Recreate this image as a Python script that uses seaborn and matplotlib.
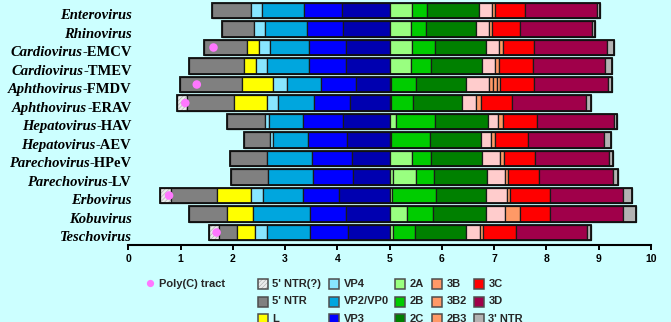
import numpy as np
import pandas as pd
import matplotlib
matplotlib.use("Agg")
import matplotlib.pyplot as plt
import matplotlib.transforms as mtransforms
from matplotlib.patches import Rectangle
from matplotlib.lines import Line2D
import seaborn as sns

# ---------------- data ----------------
genera = ["Enterovirus", "Rhinovirus", "Cardiovirus", "Cardiovirus", "Aphthovirus",
          "Aphthovirus", "Hepatovirus", "Hepatovirus", "Parechovirus", "Parechovirus",
          "Erbovirus", "Kobuvirus", "Teschovirus"]
species = ["", "", "EMCV", "TMEV", "FMDV", "ERAV", "HAV", "AEV", "HPeV", "LV", "", "", ""]

# segment lengths (kb), genome order; every genome aligned at the P1/P2 junction
p2_start = 5.0
ntr5_q = [0, 0, 0, 0, 0, 0.20, 0, 0, 0, 0, 0.21, 0, 0.20]
ntr5 = [0.73, 0.62, 0.83, 1.06, 1.20, 0.89, 0.73, 0.50, 0.70, 0.70, 0.88, 0.72, 0.34]
L = [0, 0, 0.22, 0.23, 0.59, 0.63, 0, 0, 0, 0, 0.65, 0.50, 0.35]
vp4 = [0.21, 0.21, 0.21, 0.21, 0.26, 0.22, 0.08, 0.05, 0, 0, 0.22, 0, 0.23]
vp2 = [0.82, 0.79, 0.75, 0.80, 0.66, 0.69, 0.66, 0.67, 0.86, 0.87, 0.77, 1.10, 0.82]
vp3 = [0.71, 0.70, 0.70, 0.71, 0.66, 0.68, 0.75, 0.74, 0.77, 0.76, 0.69, 0.69, 0.73]
vp1 = [0.92, 0.89, 0.84, 0.83, 0.65, 0.76, 0.90, 0.82, 0.72, 0.70, 0.97, 0.83, 0.79]
a2_1 = [0, 0, 0, 0, 0, 0, 0, 0, 0, 0.07, 0, 0, 0]
a2 = [0.43, 0.40, 0.42, 0.40, 0.03, 0.03, 0.12, 0.03, 0.43, 0.43, 0.05, 0.33, 0.06]
b2 = [0.29, 0.30, 0.45, 0.39, 0.47, 0.41, 0.75, 0.74, 0.36, 0.35, 0.84, 0.49, 0.43]
c2 = [0.98, 0.96, 0.97, 0.97, 0.96, 0.95, 1.02, 0.97, 0.98, 1.01, 0.96, 1.02, 0.97]
a3 = [0.26, 0.24, 0.26, 0.26, 0.45, 0.26, 0.19, 0.19, 0.35, 0.35, 0.39, 0.37, 0.27]
b3 = [0.06, 0.05, 0.06, 0.07, 0.07, 0.09, 0.08, 0.09, 0.07, 0.06, 0.07, 0.28, 0.06]
b3_2 = [0, 0, 0, 0, 0.07, 0, 0, 0, 0, 0, 0, 0, 0]
b3_3 = [0, 0, 0, 0, 0.07, 0, 0, 0, 0, 0, 0, 0, 0]
c3 = [0.56, 0.55, 0.61, 0.65, 0.65, 0.61, 0.66, 0.63, 0.60, 0.59, 0.75, 0.58, 0.63]
d3 = [1.39, 1.38, 1.38, 1.38, 1.40, 1.40, 1.47, 1.46, 1.40, 1.41, 1.40, 1.39, 1.36]
ntr3 = [0.06, 0.05, 0.14, 0.14, 0.09, 0.11, 0.06, 0.13, 0.08, 0.09, 0.17, 0.25, 0.08]
polyc = [np.nan, np.nan, 1.63, np.nan, 1.31, 1.09, np.nan, np.nan, np.nan, np.nan, 0.78, np.nan, 1.69]

x_ticks = [0, 1, 2, 3, 4, 5, 6, 7, 8, 9, 10]

# ---------------- style ----------------
BG = "#CCFFFF"
C = {
    "5' NTR(?)": "#EBEBEB", "5' NTR": "#808080", "L": "#FFFF00",
    "VP4": "#88E6FF", "VP2/VP0": "#00A6DE", "VP3": "#0000FF", "VP1": "#0000B0",
    "2A": "#99FF80", "2B": "#00CC00", "2C": "#008000",
    "3A": "#FFCCCC", "3B": "#FF9966", "3B2": "#FF9966", "2B3": "#FF9966",
    "3C": "#FF0000", "3D": "#A0004A", "3' NTR": "#B3B3B3",
}
HATCH_COLOR = "#B0B0B0"
HATCH = "////////"

p1_segments = [("5' NTR(?)", ntr5_q), ("5' NTR", ntr5), ("L", L), ("VP4", vp4),
               ("VP2/VP0", vp2), ("VP3", vp3), ("VP1", vp1)]
p23_segments = [("2A", a2_1), ("2A", a2), ("2B", b2), ("2C", c2), ("3A", a3),
                ("3B", b3), ("3B2", b3_2), ("2B3", b3_3), ("3C", c3), ("3D", d3),
                ("3' NTR", ntr3)]

sns.set_theme(style="white")
plt.rcParams["hatch.linewidth"] = 0.45
plt.rcParams["font.family"] = ["Liberation Sans", "DejaVu Sans"]

W, H = 671, 322
fig = plt.figure(figsize=(W / 100, H / 100), dpi=100, facecolor=BG)
ax = fig.add_axes([128.3 / W, 1 - 245 / H, (651 - 128.3) / W, 245 / H])
ax.set_facecolor(BG)

names = [g + ("-" + s if s else "") for g, s in zip(genera, species)]
n = len(names)

# cumulative left edges
p1_total = np.sum([np.array(v) for _, v in p1_segments], axis=0)
left = p2_start - p1_total
segs = []
for lab, vals in p1_segments + p23_segments:
    vals = np.array(vals, dtype=float)
    segs.append((lab, vals, left.copy()))
    left = left + vals
ends = left

BAR_H = 0.85
for lab, vals, lefts in segs:
    mask = vals > 0
    if not mask.any():
        continue
    df = pd.DataFrame({"name": np.array(names)[mask], "len": vals[mask]})
    if lab == "5' NTR(?)":
        # light hatching first (hatch takes the edge colour), then dark outline
        sns.barplot(data=df, y="name", x="len", order=names, orient="h", ax=ax,
                    color=C[lab], width=BAR_H, errorbar=None, saturation=1,
                    left=lefts[mask], edgecolor=HATCH_COLOR, linewidth=0,
                    hatch=HATCH)
        sns.barplot(data=df, y="name", x="len", order=names, orient="h", ax=ax,
                    color="#1A1A1A", facecolor="none", width=BAR_H, errorbar=None,
                    left=lefts[mask], edgecolor="#1A1A1A", linewidth=0.9)
    else:
        sns.barplot(data=df, y="name", x="len", order=names, orient="h", ax=ax,
                    color=C[lab], width=BAR_H, errorbar=None, saturation=1,
                    left=lefts[mask], edgecolor="#1A1A1A", linewidth=0.9)

# whole-genome outline
starts = p2_start - p1_total
df_all = pd.DataFrame({"name": names, "len": ends - starts})
sns.barplot(data=df_all, y="name", x="len", order=names, orient="h", ax=ax,
            color="#111111", facecolor="none", width=BAR_H, errorbar=None,
            left=starts, edgecolor="#111111", linewidth=1.3)

# poly(C) tracts
pc = np.array(polyc)
rows = np.arange(n)
ok = ~np.isnan(pc)
sns.scatterplot(x=pc[ok], y=rows[ok], ax=ax, color="#FF77FF", s=38,
                edgecolor="none", zorder=5, legend=False)

ax.set_xlim(0, 10)
ax.set_ylim(12.676, -0.568)
ax.set_xlabel("")
ax.set_ylabel("")
ax.set_yticks([])
ax.set_xticks(x_ticks)
ax.set_xticklabels([str(t) for t in x_ticks], fontsize=7.5, fontweight="bold")
ax.tick_params(axis="x", direction="out", length=3.6, width=1.4, pad=3,
               colors="black", bottom=True)
for s in ["left", "right", "top"]:
    ax.spines[s].set_visible(False)
ax.spines["bottom"].set_color("black")
ax.spines["bottom"].set_linewidth(1.5)

# row labels: italic genus + upright species
fig.canvas.draw()
renderer = fig.canvas.get_renderer()
serif = ["Liberation Serif", "DejaVu Serif"]
x_lab = 0.065
for i, (g, s) in enumerate(zip(genera, species)):
    y = i + 0.47
    off = 0.0
    if s:
        t = ax.text(x_lab, y, "-" + s, ha="right", va="baseline", fontsize=10.5,
                    fontweight="bold", family=serif, color="black")
        off = t.get_window_extent(renderer).width
    tr = mtransforms.offset_copy(ax.transData, fig=fig, x=-off / fig.dpi, units="inches")
    ax.text(x_lab, y, g, ha="right", va="baseline", fontsize=10.5, fontweight="bold",
            fontstyle="italic", family=serif, color="black", transform=tr)

# ---------------- legend ----------------
def fx(px):
    return px / W

def fy(py):
    return 1 - py / H

fig.add_artist(Line2D([fx(150)], [fy(283)], marker="o", markersize=5.2,
                      color="#FF77FF", markeredgewidth=0, linestyle="none",
                      transform=fig.transFigure))
fig.text(fx(159), fy(284.3), "Poly(C) tract", fontsize=8, fontweight="bold",
         va="center", ha="left")

legend_cols = [
    (258, ["5' NTR(?)", "5' NTR", "L"]),
    (329, ["VP4", "VP2/VP0", "VP3"]),
    (395, ["2A", "2B", "2C"]),
    (432, ["3B", "3B2", "2B3"]),
    (474, ["3C", "3D", "3' NTR"]),
]
row_y = [284.3, 301.5, 318.5]
for bx, labs in legend_cols:
    for lab, ry in zip(labs, row_y):
        xy = (fx(bx), fy(ry + 5))
        wh = (9.5 / W, 10 / H)
        if lab == "5' NTR(?)":
            fig.add_artist(Rectangle(xy, *wh, transform=fig.transFigure,
                                     facecolor=C[lab], edgecolor=HATCH_COLOR,
                                     linewidth=0, hatch=HATCH))
            fig.add_artist(Rectangle(xy, *wh, transform=fig.transFigure,
                                     facecolor="none", edgecolor="#4D4D4D", linewidth=1.1))
        else:
            fig.add_artist(Rectangle(xy, *wh, transform=fig.transFigure,
                                     facecolor=C[lab], edgecolor="#4D4D4D", linewidth=1.1))
        fig.text(fx(bx + 14.5), fy(ry), lab, fontsize=8, fontweight="bold",
                 va="center", ha="left")

fig.savefig("out.png", dpi=100, facecolor=BG)
